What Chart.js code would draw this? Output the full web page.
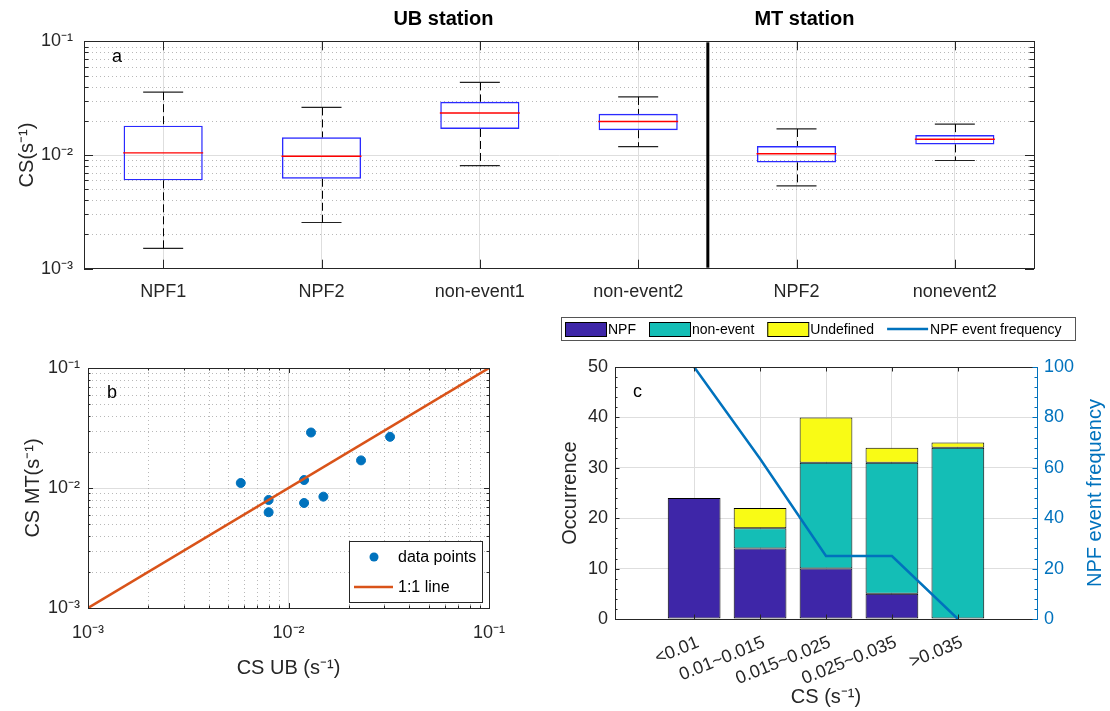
<!DOCTYPE html>
<html>
<head>
<meta charset="utf-8">
<script src="https://cdn.jsdelivr.net/npm/chart.js@4.4.0/dist/chart.umd.min.js"></script>
<style>
    body { margin: 0; background: #fff; width: 1110px; height: 711px; position: relative; overflow: hidden; }
    canvas { position: absolute; }
    #boxChart { left: 0; top: 0; }
    #scatterChart { left: 0; top: 320px; }
    #barChart { left: 540px; top: 310px; }
</style>
</head>
<body>
<canvas id="boxChart" width="1110" height="310"></canvas>
<canvas id="scatterChart" width="540" height="391"></canvas>
<canvas id="barChart" width="570" height="401"></canvas>
<script>
// panel a - box plots of CS
const boxLabels = ['NPF1', 'NPF2', 'non-event1', 'non-event2', 'NPF2', 'nonevent2'];
const whiskerLow = [0.00151, 0.00255, 0.00807, 0.01186, 0.00536, 0.00895];
const quartile1 = [0.00599, 0.00618, 0.01694, 0.01652, 0.00861, 0.01239];
const medians = [0.01046, 0.00975, 0.0234, 0.0197, 0.01026, 0.01375];
const quartile3 = [0.0181, 0.01429, 0.0294, 0.0230, 0.0120, 0.01497];
const whiskerHigh = [0.0357, 0.0262, 0.0435, 0.0324, 0.01694, 0.01867];
const stationTitles = ['UB station', 'MT station'];
const logTicks = [0.001, 0.01, 0.1];

// panel b - UB vs MT
const ubCS = [0.00578, 0.00796, 0.00796, 0.01196, 0.01196, 0.01295, 0.01493, 0.0230, 0.0321];
const mtCS = [0.01101, 0.00795, 0.00628, 0.01165, 0.0075, 0.0290, 0.00847, 0.01699, 0.0267];
const oneToOne = [0.001, 0.1];

// panel c - occurrence per CS bin
const csBins = ['<0.01', '0.01~0.015', '0.015~0.025', '0.025~0.035', '>0.035'];
const npfCounts = [24, 14, 10, 5, 0];
const nonEventCounts = [0, 4, 21, 26, 34];
const undefinedCounts = [0, 4, 9, 3, 1];
const npfFrequency = [100, 63.6, 25, 25, 0];

Chart.defaults.font.family = '"Liberation Sans", Arial, Helvetica, sans-serif';
Chart.defaults.color = '#262626';
Chart.defaults.animation = false;
Chart.defaults.events = [];
Chart.defaults.plugins.legend.display = false;
Chart.defaults.plugins.tooltip.enabled = false;

const axisColor = '#262626';
const gridColor = '#dedede';
const minorColor = '#b8b8b8';
const freqBlue = '#0072BD';
const fontFamily = Chart.defaults.font.family;

const sup = {'-': '\u207B', '0': '\u2070', '1': '\u00B9', '2': '\u00B2', '3': '\u00B3'};
function powerLabel(v) {
    const e = Math.round(Math.log10(v));
    return '10' + String(e).split('').map(c => sup[c]).join('');
}

function minorLogValues(min, max) {
    const vals = [];
    for (let e = Math.round(Math.log10(min)); e < Math.round(Math.log10(max)); e++) {
        for (let m = 2; m <= 9; m++) vals.push(m * Math.pow(10, e));
    }
    return vals;
}

function hLine(ctx, x1, x2, y) {
    y = Math.round(y) + 0.5;
    ctx.beginPath(); ctx.moveTo(x1, y); ctx.lineTo(x2, y); ctx.stroke();
}
function vLine(ctx, x, y1, y2) {
    x = Math.round(x) + 0.5;
    ctx.beginPath(); ctx.moveTo(x, y1); ctx.lineTo(x, y2); ctx.stroke();
}

function yTicks(ctx, chart, scale, values, len, left, right) {
    const a = chart.chartArea;
    values.forEach(v => {
        const y = scale.getPixelForValue(v);
        if (left) hLine(ctx, a.left, a.left + len, y);
        if (right) hLine(ctx, a.right - len, a.right, y);
    });
}
function xTicks(ctx, chart, scale, values, len) {
    const a = chart.chartArea;
    values.forEach(v => {
        const x = scale.getPixelForValue(v);
        vLine(ctx, x, a.bottom, a.bottom - len);
        vLine(ctx, x, a.top, a.top + len);
    });
}

function frame(ctx, a) {
    ctx.save();
    ctx.strokeStyle = axisColor;
    ctx.lineWidth = 1;
    ctx.strokeRect(Math.round(a.left) + 0.5, Math.round(a.top) + 0.5, Math.round(a.right - a.left), Math.round(a.bottom - a.top));
    ctx.restore();
}

function panelLetter(ctx, text, x, y) {
    ctx.save();
    ctx.fillStyle = '#000';
    ctx.font = '18px ' + fontFamily;
    ctx.textBaseline = 'alphabetic';
    ctx.fillText(text, x, y);
    ctx.restore();
}

// ---------- panel a ----------
const boxPlotExtras = {
    id: 'boxPlotExtras',
    beforeDatasetsDraw(chart) {
        const {ctx, chartArea: a, scales: {y}} = chart;
        ctx.save();
        ctx.strokeStyle = minorColor;
        ctx.lineWidth = 1;
        ctx.setLineDash([1, 3]);
        minorLogValues(0.001, 0.1).forEach(v => hLine(ctx, a.left, a.right, y.getPixelForValue(v)));
        ctx.restore();
    },
    afterDatasetsDraw(chart) {
        const {ctx, scales: {x, y}} = chart;
        ctx.save();
        ctx.strokeStyle = '#000';
        ctx.lineWidth = 1;
        ctx.setLineDash([8, 4]);
        boxLabels.forEach((_, i) => {
            const px = x.getPixelForValue(i);
            vLine(ctx, px, y.getPixelForValue(whiskerHigh[i]), y.getPixelForValue(quartile3[i]));
            vLine(ctx, px, y.getPixelForValue(quartile1[i]), y.getPixelForValue(whiskerLow[i]));
        });
        ctx.restore();
    },
    afterDraw(chart) {
        const {ctx, chartArea: a, scales: {x, y}} = chart;
        const at = v => {
            const i = Math.floor(v);
            return x.getPixelForValue(i) + (v - i) * (x.getPixelForValue(i + 1) - x.getPixelForValue(i));
        };
        frame(ctx, a);
        ctx.save();
        ctx.strokeStyle = axisColor;
        ctx.lineWidth = 1;
        yTicks(ctx, chart, y, logTicks, 9, true, true);
        yTicks(ctx, chart, y, minorLogValues(0.001, 0.1), 4.5, true, true);
        xTicks(ctx, chart, x, boxLabels.map((_, i) => i), 9);
        // separator between the two stations
        ctx.strokeStyle = '#000';
        ctx.lineWidth = 3;
        const sx = at(3.44);
        ctx.beginPath(); ctx.moveTo(sx, a.top + 1); ctx.lineTo(sx, a.bottom - 1); ctx.stroke();
        ctx.fillStyle = '#000';
        ctx.font = 'bold 20px ' + fontFamily;
        ctx.textAlign = 'center';
        ctx.textBaseline = 'middle';
        ctx.fillText(stationTitles[0], at(1.77), 19);
        ctx.fillText(stationTitles[1], at(4.05), 19);
        ctx.restore();
        panelLetter(ctx, 'a', 112, 62);
    }
};

new Chart(document.getElementById('boxChart'), {
    type: 'bar',
    data: {
        labels: boxLabels,
        datasets: [{
            type: 'line',
            label: 'median',
            data: medians,
            showLine: false,
            pointStyle: 'line',
            pointRadius: 40,
            pointBorderWidth: 1.3,
            borderColor: '#ff0000',
            order: 0
        }, {
            type: 'line',
            label: 'upper whisker',
            data: whiskerHigh,
            showLine: false,
            pointStyle: 'line',
            pointRadius: 20,
            pointBorderWidth: 1.2,
            borderColor: '#222',
            order: 0
        }, {
            type: 'line',
            label: 'lower whisker',
            data: whiskerLow,
            showLine: false,
            pointStyle: 'line',
            pointRadius: 20,
            pointBorderWidth: 1.2,
            borderColor: '#222',
            order: 0
        }, {
            label: 'box',
            data: quartile1.map((q, i) => [q, quartile3[i]]),
            backgroundColor: 'rgba(0,0,0,0)',
            borderColor: '#2a2aff',
            borderWidth: 1.4,
            borderSkipped: false,
            barPercentage: 0.5,
            categoryPercentage: 1,
            order: 1
        }]
    },
    options: {
        responsive: false,
        layout: { padding: { top: 35, right: 76, left: 0, bottom: 0 } },
        scales: {
            x: {
                type: 'category',
                offset: true,
                grid: { offset: false, color: gridColor, drawTicks: false },
                border: { color: axisColor },
                ticks: { color: axisColor, font: { size: 18 }, padding: 13, maxRotation: 0 },
                afterFit: s => { s.height = 39; }
            },
            y: {
                type: 'logarithmic',
                min: 0.001,
                max: 0.1,
                afterBuildTicks: s => { s.ticks = logTicks.map(v => ({ value: v })); },
                grid: { color: gridColor, drawTicks: false },
                border: { color: axisColor },
                ticks: { color: axisColor, font: { size: 18 }, padding: 11, callback: v => powerLabel(v) },
                title: { display: true, text: 'CS(s\u207B\u00B9)', color: axisColor, font: { size: 20 }, padding: { top: 15 } },
                afterFit: s => { s.width = 84; }
            }
        }
    },
    plugins: [boxPlotExtras]
});

// ---------- panel b ----------
const scatterExtras = {
    id: 'scatterExtras',
    beforeDatasetsDraw(chart) {
        const {ctx, chartArea: a, scales: {x, y}} = chart;
        ctx.save();
        ctx.strokeStyle = minorColor;
        ctx.lineWidth = 1;
        ctx.setLineDash([1, 3]);
        minorLogValues(0.001, 0.1).forEach(v => {
            hLine(ctx, a.left, a.right, y.getPixelForValue(v));
            vLine(ctx, x.getPixelForValue(v), a.top, a.bottom);
        });
        ctx.restore();
    },
    afterDraw(chart) {
        const {ctx, chartArea: a, scales: {x, y}} = chart;
        frame(ctx, a);
        ctx.save();
        ctx.strokeStyle = axisColor;
        ctx.lineWidth = 1;
        yTicks(ctx, chart, y, logTicks, 5, true, true);
        yTicks(ctx, chart, y, minorLogValues(0.001, 0.1), 2.5, true, true);
        xTicks(ctx, chart, x, logTicks, 5);
        xTicks(ctx, chart, x, minorLogValues(0.001, 0.1), 2.5);

        // legend box, lower right inside the axes
        const ds = chart.data.datasets;
        const w = 133, h = 61;
        const left = Math.round(a.right - 7 - w), top = Math.round(a.bottom - 6 - h);
        ctx.fillStyle = '#fff';
        ctx.fillRect(left, top, w, h);
        ctx.strokeRect(left + 0.5, top + 0.5, w, h);
        ctx.fillStyle = ds[1].backgroundColor;
        ctx.beginPath(); ctx.arc(left + 25, top + 16, 4.5, 0, Math.PI * 2); ctx.fill();
        ctx.strokeStyle = ds[0].borderColor;
        ctx.lineWidth = ds[0].borderWidth;
        ctx.beginPath(); ctx.moveTo(left + 5, top + 46); ctx.lineTo(left + 44, top + 46); ctx.stroke();
        ctx.fillStyle = '#000';
        ctx.font = '16px ' + fontFamily;
        ctx.textBaseline = 'middle';
        ctx.fillText(ds[1].label, left + 49, top + 17);
        ctx.fillText(ds[0].label, left + 49, top + 47);
        ctx.restore();
        panelLetter(ctx, 'b', 107, 78);
    }
};

new Chart(document.getElementById('scatterChart'), {
    type: 'scatter',
    data: {
        datasets: [{
            type: 'line',
            label: '1:1 line',
            data: oneToOne.map(v => ({ x: v, y: v })),
            borderColor: '#D95319',
            borderWidth: 2.5,
            pointRadius: 0,
            order: 0
        }, {
            label: 'data points',
            data: ubCS.map((v, i) => ({ x: v, y: mtCS[i] })),
            backgroundColor: '#0072BD',
            borderColor: '#0072BD',
            pointRadius: 4.5,
            order: 1
        }]
    },
    options: {
        responsive: false,
        layout: { padding: { top: 48, right: 51, left: 0, bottom: 0 } },
        scales: {
            x: {
                type: 'logarithmic',
                min: 0.001,
                max: 0.1,
                afterBuildTicks: s => { s.ticks = logTicks.map(v => ({ value: v })); },
                grid: { color: gridColor, drawTicks: false },
                border: { color: axisColor },
                ticks: { color: axisColor, font: { size: 18 }, padding: 14, maxRotation: 0, callback: v => powerLabel(v) },
                title: { display: true, text: 'CS UB (s\u207B\u00B9)', color: axisColor, font: { size: 20 }, padding: { bottom: 31 } },
                afterFit: s => { s.height = 103; }
            },
            y: {
                type: 'logarithmic',
                min: 0.001,
                max: 0.1,
                afterBuildTicks: s => { s.ticks = logTicks.map(v => ({ value: v })); },
                grid: { color: gridColor, drawTicks: false },
                border: { color: axisColor },
                ticks: { color: axisColor, font: { size: 18 }, padding: 8, callback: v => powerLabel(v) },
                title: { display: true, text: 'CS MT(s\u207B\u00B9)', color: axisColor, font: { size: 20 }, padding: { top: 21 } },
                afterFit: s => { s.width = 88; }
            }
        }
    },
    plugins: [scatterExtras]
});

// ---------- panel c ----------
const barExtras = {
    id: 'barExtras',
    afterDraw(chart) {
        const {ctx, chartArea: a, scales: {x, y, y1}} = chart;
        ctx.save();
        ctx.strokeStyle = axisColor;
        ctx.lineWidth = 1;
        hLine(ctx, a.left, a.right, a.top);
        yTicks(ctx, chart, y, [0, 10, 20, 30, 40, 50], 4.5, true, false);
        yTicks(ctx, chart, y, [2, 4, 6, 8, 12, 14, 16, 18, 22, 24, 26, 28, 32, 34, 36, 38, 42, 44, 46, 48], 2.5, true, false);
        xTicks(ctx, chart, x, csBins.map((_, i) => i + 1), 4.5);
        ctx.strokeStyle = freqBlue;
        yTicks(ctx, chart, y1, [0, 20, 40, 60, 80, 100], 4.5, false, true);
        yTicks(ctx, chart, y1, [4, 8, 12, 16, 24, 28, 32, 36, 44, 48, 52, 56, 64, 68, 72, 76, 84, 88, 92, 96], 2.5, false, true);

        // right axis title, reading bottom to top
        ctx.fillStyle = freqBlue;
        ctx.font = '20px ' + fontFamily;
        ctx.textAlign = 'center';
        ctx.textBaseline = 'middle';
        ctx.translate(555, (a.top + a.bottom) / 2);
        ctx.rotate(-Math.PI / 2);
        ctx.fillText('NPF event frequency', 0, 0);
        ctx.restore();

        // legend row above the axes
        ctx.save();
        ctx.strokeStyle = '#555';
        ctx.lineWidth = 1;
        ctx.fillStyle = '#fff';
        ctx.fillRect(21, 7, 514, 23);
        ctx.strokeRect(21.5, 7.5, 514, 23);
        ctx.font = '14px ' + fontFamily;
        ctx.textBaseline = 'middle';
        let lx = 25;
        chart.data.datasets.forEach(ds => {
            if (ds.type === 'line') {
                ctx.strokeStyle = ds.borderColor;
                ctx.lineWidth = ds.borderWidth;
                ctx.beginPath(); ctx.moveTo(lx, 19); ctx.lineTo(lx + 41, 19); ctx.stroke();
            } else {
                ctx.fillStyle = ds.backgroundColor;
                ctx.fillRect(lx, 12, 41, 14);
                ctx.strokeStyle = '#000';
                ctx.lineWidth = 1;
                ctx.strokeRect(lx + 0.5, 12.5, 41, 14);
            }
            ctx.fillStyle = '#000';
            ctx.fillText(ds.label, lx + 43, 20);
            lx += 43 + ctx.measureText(ds.label).width + 13;
        });
        ctx.restore();
        panelLetter(ctx, 'c', 93, 87);
    }
};

function binPoints(values) {
    return values.map((v, i) => ({ x: i + 1, y: v }));
}

new Chart(document.getElementById('barChart'), {
    type: 'bar',
    data: {
        datasets: [{
            label: 'NPF',
            data: binPoints(npfCounts),
            backgroundColor: '#3E26A8',
            borderColor: '#000',
            borderWidth: 1,
            borderSkipped: false,
            barPercentage: 0.8,
            categoryPercentage: 1,
            order: 1
        }, {
            label: 'non-event',
            data: binPoints(nonEventCounts),
            backgroundColor: '#14BEB6',
            borderColor: '#000',
            borderWidth: 1,
            borderSkipped: false,
            barPercentage: 0.8,
            categoryPercentage: 1,
            order: 1
        }, {
            label: 'Undefined',
            data: binPoints(undefinedCounts),
            backgroundColor: '#F9FB15',
            borderColor: '#000',
            borderWidth: 1,
            borderSkipped: false,
            barPercentage: 0.8,
            categoryPercentage: 1,
            order: 1
        }, {
            type: 'line',
            label: 'NPF event frequency',
            data: binPoints(npfFrequency),
            yAxisID: 'y1',
            borderColor: freqBlue,
            borderWidth: 2.5,
            pointRadius: 0,
            order: 0
        }]
    },
    options: {
        responsive: false,
        layout: { padding: { top: 57, right: 0, left: 0, bottom: 0 } },
        scales: {
            x: {
                type: 'linear',
                stacked: true,
                offset: false,
                min: -0.2,
                max: 6.2,
                afterBuildTicks: s => { s.ticks = csBins.map((_, i) => ({ value: i + 1 })); },
                grid: { offset: false, color: gridColor, drawTicks: false },
                border: { color: axisColor },
                ticks: { color: axisColor, font: { size: 18 }, padding: 13, labelOffset: 4, minRotation: 22, maxRotation: 22, callback: (v, i) => csBins[i] },
                title: { display: true, text: 'CS (s\u207B\u00B9)', color: axisColor, font: { size: 20 }, padding: { bottom: 2 } },
                afterFit: s => { s.height = 92; }
            },
            y: {
                stacked: true,
                min: 0,
                max: 50,
                ticks: { stepSize: 10, color: axisColor, font: { size: 18 }, padding: 7 },
                grid: { color: gridColor, drawTicks: false },
                border: { color: axisColor },
                title: { display: true, text: 'Occurrence', color: axisColor, font: { size: 20 }, padding: { top: 18 } },
                afterFit: s => { s.width = 75; }
            },
            y1: {
                position: 'right',
                min: 0,
                max: 100,
                ticks: { stepSize: 20, color: freqBlue, font: { size: 18 }, padding: 7 },
                grid: { drawOnChartArea: false, drawTicks: false },
                border: { color: freqBlue },
                afterFit: s => { s.width = 73; }
            }
        }
    },
    plugins: [barExtras]
});
</script>
</body>
</html>
